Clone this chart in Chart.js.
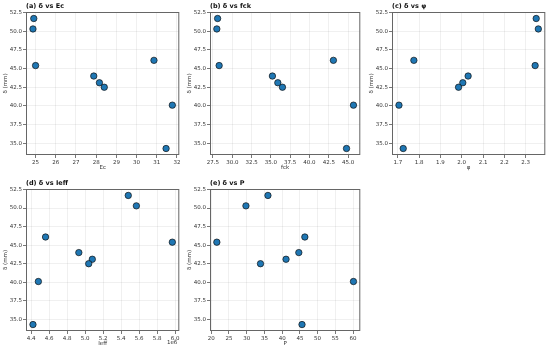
<!DOCTYPE html>
<html>
<head>
<meta charset="utf-8">
<script src="https://cdn.jsdelivr.net/npm/chart.js@4.4.0/dist/chart.umd.min.js"></script>
<style>
  body { margin: 0; background: #fff; width: 550px; height: 350px; position: relative; overflow: hidden; }
  canvas { position: absolute; }
</style>
</head>
<body>
<canvas id="cA"></canvas>
<canvas id="cB"></canvas>
<canvas id="cC"></canvas>
<canvas id="cD"></canvas>
<canvas id="cE"></canvas>
<script>
// deflection (mm) for the nine beams, same order in every array
const deflection = [51.7, 50.3, 45.4, 44.0, 43.1, 42.5, 46.1, 40.1, 34.3];
const ec   = [24.91, 24.87, 25.0, 27.88, 28.16, 28.40, 30.86, 31.77, 31.46];
const fck  = [28.1, 28.0, 28.3, 35.2, 35.9, 36.5, 43.1, 45.7, 44.8];
const phi  = [2.35, 2.36, 2.345, 2.03, 2.005, 1.985, 1.775, 1.705, 1.725];
// Ieff in units of 1e6 (axis shows the 1e6 offset)
const ieff = [5.48, 5.57, 5.97, 4.93, 5.08, 5.04, 4.56, 4.48, 4.42];
const load = [36.0, 29.8, 21.6, 44.7, 41.1, 33.9, 46.4, 60.1, 45.6];

const panelTitles = ['(a) δ vs Ec', '(b) δ vs fck', '(c) δ vs φ', '(d) δ vs Ieff', '(e) δ vs P'];
const xLabels = ['Ec', 'fck', 'φ', 'Ieff', 'P'];
const yLabel = 'δ (mm)';
const ieffOffsetText = '1e6';

const FONT = '"DejaVu Sans", sans-serif';

// matplotlib style 5% margins
function limits(arr) {
  const lo = Math.min(...arr), hi = Math.max(...arr);
  const pad = (hi - lo) * 0.05;
  return { min: lo - pad, max: hi + pad };
}

// frame round the plot area (+ offset text for Ieff)
const framePlugin = {
  id: 'frame',
  afterDraw(chart) {
    const { ctx, chartArea: a } = chart;
    ctx.save();
    ctx.strokeStyle = '#666';
    ctx.lineWidth = 1;
    ctx.strokeRect(a.left + 0.5, a.top + 0.5, a.right - a.left - 1, a.bottom - a.top - 1);
    const off = chart.options.plugins.frame && chart.options.plugins.frame.offsetText;
    if (off) {
      ctx.fillStyle = '#333';
      ctx.font = '5.5px ' + FONT;
      ctx.textAlign = 'right';
      ctx.textBaseline = 'middle';
      ctx.fillText(off, a.right - 2, a.bottom + 12);
    }
    ctx.restore();
  }
};

function makePanel(id, box, xs, idx, xOpts, offsetText) {
  const L = box[0], T = box[1], R = box[2], B = box[3];
  const cv = document.getElementById(id);
  cv.width = R - L + 26 + 3;
  cv.height = B - T + 12 + 22;
  cv.style.left = (L - 26) + 'px';
  cv.style.top = (T - 12) + 'px';

  const xl = limits(xs), yl = limits(deflection);
  const gridCommon = {
    color: 'rgba(0,0,0,0.08)',
    lineWidth: 0.8,
    tickLength: 3,
    tickColor: '#555',
    tickWidth: 0.8
  };

  new Chart(cv, {
    type: 'scatter',
    data: {
      datasets: [{
        data: xs.map((x, i) => ({ x: x, y: deflection[i] })),
        backgroundColor: '#1f77b4',
        borderColor: '#111',
        borderWidth: 0.7,
        pointRadius: 3.2
      }]
    },
    options: {
      responsive: false,
      animation: false,
      layout: { padding: { left: 0, right: 3, top: 0, bottom: 0 } },
      plugins: {
        legend: { display: false },
        tooltip: { enabled: false },
        title: {
          display: true,
          text: panelTitles[idx],
          align: 'start',
          fullSize: false,
          color: '#111',
          font: { family: FONT, size: 6.5, weight: 'bold' },
          padding: { top: 2, bottom: 2.2 }
        },
        frame: { offsetText: offsetText }
      },
      scales: {
        x: {
          type: 'linear',
          min: xl.min,
          max: xl.max,
          afterFit(s) { s.height = 22; },
          grid: gridCommon,
          border: { display: false },
          ticks: Object.assign({
            color: '#333',
            font: { family: FONT, size: 5.5 },
            padding: 1,
            maxRotation: 0,
            autoSkip: false,
            includeBounds: false
          }, xOpts),
          title: {
            display: true,
            text: xLabels[idx],
            color: '#333',
            font: { family: FONT, size: 5.5 },
            padding: { top: 0, bottom: 5.7 }
          }
        },
        y: {
          min: yl.min,
          max: yl.max,
          afterFit(s) { s.width = 26; },
          grid: gridCommon,
          border: { display: false },
          ticks: {
            stepSize: 2.5,
            includeBounds: false,
            color: '#333',
            font: { family: FONT, size: 5.5 },
            padding: 1,
            callback: v => v.toFixed(1)
          },
          title: {
            display: true,
            text: yLabel,
            color: '#333',
            font: { family: FONT, size: 5.5 },
            padding: { top: 2.2, bottom: 0 }
          }
        }
      }
    },
    plugins: [framePlugin]
  });
}

makePanel('cA', [26, 12, 181, 155], ec, 0, { stepSize: 1, callback: v => v.toFixed(0) });
makePanel('cB', [210, 12, 362, 155], fck, 1, { stepSize: 2.5, callback: v => v.toFixed(1) });
makePanel('cC', [392, 12, 547, 155], phi, 2, { stepSize: 0.1, callback: v => v.toFixed(1) });
makePanel('cD', [26, 189, 181, 331], ieff, 3, { stepSize: 0.2, callback: v => v.toFixed(1) }, ieffOffsetText);
makePanel('cE', [210, 189, 362, 331], load, 4, { stepSize: 5, callback: v => v.toFixed(0) });
</script>
</body>
</html>
